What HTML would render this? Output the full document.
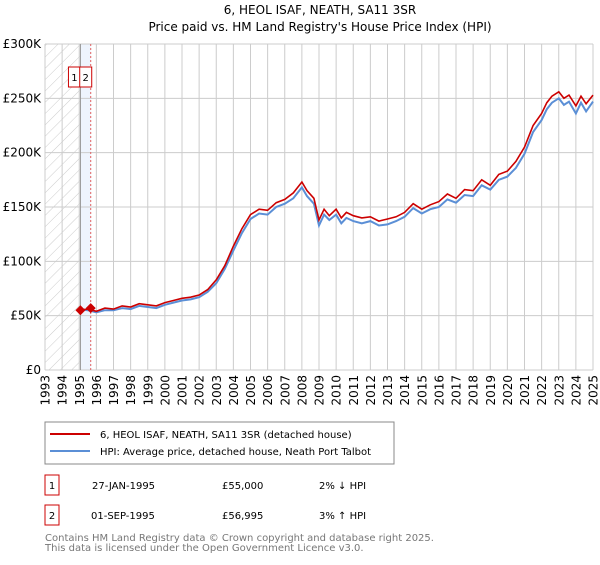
<!DOCTYPE html>
<html><head><meta charset="utf-8"><style>
body{margin:0;background:#fff;font-family:"Liberation Sans","DejaVu Sans",sans-serif;}
svg text{font-family:"DejaVu Sans","Liberation Sans",sans-serif;}
</style></head><body>
<svg id="c" width="600" height="560" xmlns="http://www.w3.org/2000/svg">
<defs><pattern id="h" patternUnits="userSpaceOnUse" width="8" height="8" patternTransform="rotate(45)"><line x1="0" y1="0" x2="0" y2="8" stroke="#ccc" stroke-width="1"/></pattern></defs>
<text x="320" y="14" font-size="12" text-anchor="middle">6, HEOL ISAF, NEATH, SA11 3SR</text>
<text x="320" y="31" font-size="12" text-anchor="middle">Price paid vs. HM Land Registry's House Price Index (HPI)</text>
<g id="grid"></g><g id="marks"></g>
<rect x="45" y="422" width="349" height="42" fill="#fff" stroke="#888"/>
<line x1="50" y1="434" x2="90" y2="434" stroke="#cc0000" stroke-width="2"/>
<text x="100" y="438" font-size="10">6, HEOL ISAF, NEATH, SA11 3SR (detached house)</text>
<line x1="50" y1="451" x2="90" y2="451" stroke="#5b8fd6" stroke-width="2"/>
<text x="100" y="455" font-size="10">HPI: Average price, detached house, Neath Port Talbot</text>
<rect x="45" y="475" width="14" height="20" fill="#fff" stroke="#cc0000"/>
<text x="52" y="489" font-size="10" text-anchor="middle">1</text>
<text x="92" y="489" font-size="10">27-JAN-1995</text>
<text x="222" y="489" font-size="10">£55,000</text>
<text x="319" y="489" font-size="10">2% ↓ HPI</text>
<rect x="45" y="505" width="14" height="20" fill="#fff" stroke="#cc0000"/>
<text x="52" y="519" font-size="10" text-anchor="middle">2</text>
<text x="91" y="519" font-size="10">01-SEP-1995</text>
<text x="222" y="519" font-size="10">£56,995</text>
<text x="319" y="519" font-size="10">3% ↑ HPI</text>
<text x="45" y="541" font-size="10" fill="#777">Contains HM Land Registry data © Crown copyright and database right 2025.</text>
<text x="45" y="551" font-size="10" fill="#777">This data is licensed under the Open Government Licence v3.0.</text>
</svg>
<script>
const years=[1995,1995.5,1996,1996.5,1997,1997.5,1998,1998.5,1999,1999.5,2000,2000.5,2001,2001.5,2002,2002.5,2003,2003.5,2004,2004.5,2005,2005.5,2006,2006.5,2007,2007.5,2008,2008.3,2008.7,2009,2009.3,2009.6,2010,2010.3,2010.6,2011,2011.5,2012,2012.5,2013,2013.5,2014,2014.5,2015,2015.5,2016,2016.5,2017,2017.5,2018,2018.5,2019,2019.5,2020,2020.5,2021,2021.5,2022,2022.3,2022.6,2023,2023.3,2023.6,2024,2024.3,2024.6,2025];
const priceVals=[55,56,54,57,56,59,58,61,60,59,62,64,66,67,69,74,83,96,114,130,143,148,147,154,157,163,173,165,158,138,148,142,148,140,145,142,140,141,137,139,141,145,153,148,152,155,162,158,166,165,175,170,180,183,192,205,225,236,246,252,256,250,253,243,252,245,253];
const hpiVals=[56,55,53,55,55,57,56,59,58,57,60,62,64,65,67,72,80,93,110,126,139,144,143,150,153,158,168,160,153,133,143,138,143,135,140,137,135,137,133,134,137,141,149,144,148,150,157,154,161,160,170,166,175,178,186,199,219,230,240,246,250,244,247,236,246,238,247];
const yTicks=[0,50,100,150,200,250,300];
const xTicks=[];for(let y=1993;y<=2025;y++)xTicks.push(y);
const sales=[[1995.07,55],[1995.67,56.995]];
const X=y=>45+(y-1993)*(548/32), Y=v=>370-v*326/300;
const NS='http://www.w3.org/2000/svg';
function mk(p,t,a){const e=document.createElementNS(NS,t);for(const k in a)e.setAttribute(k,a[k]);p.appendChild(e);return e;}
const g=document.getElementById('grid'),m=document.getElementById('marks');
let r=mk(g,'rect',{x:45,y:44,width:X(sales[0][0])-45,height:326,fill:'url(#h)'});


r=mk(g,'rect',{x:X(sales[0][0]),y:44,width:X(sales[1][0])-X(sales[0][0]),height:326,fill:'#eef4fd'});


xTicks.forEach(t=>{const l=mk(g,'line',{x1:X(t),y1:44,x2:X(t),y2:370,stroke:'#ccc'});


const tx=mk(g,'text',{x:0,y:0,'font-size':12,'text-anchor':'end',transform:`translate(${X(t)+4.5},375) rotate(-90)`});tx.textContent=t;

});
yTicks.forEach(t=>{const l=mk(g,'line',{x1:45,y1:Y(t),x2:593,y2:Y(t),stroke:'#ccc'});


const tx=mk(g,'text',{x:41,y:Y(t)+4,'font-size':12,'text-anchor':'end'});tx.textContent=t?'£'+t+'K':'£0';

});
let l=mk(g,'line',{x1:X(sales[0][0]),y1:44,x2:X(sales[0][0]),y2:370,stroke:'#999'});


l=mk(g,'line',{x1:X(sales[1][0]),y1:44,x2:X(sales[1][0]),y2:370,stroke:'#e06060','stroke-dasharray':'2,2'});


const pts=a=>a.map((v,i)=>X(years[i]).toFixed(1)+','+Y(v).toFixed(1)).join(' ');
let p=mk(m,'polyline',{points:pts(hpiVals),fill:'none',stroke:'#5b8fd6','stroke-width':2});


p=mk(m,'polyline',{points:pts(priceVals),fill:'none',stroke:'#cc0000','stroke-width':1.6});


sales.forEach((s,i)=>{const x=X(s[0]),y=Y(s[1]);
const d=mk(m,'polygon',{points:`${x-5},${y} ${x},${y-5} ${x+5},${y} ${x},${y+5}`,fill:'#cc0000'});


const b=mk(m,'rect',{x:i?x-11:x-12,y:67,width:12,height:20,fill:'#fff',stroke:'#cc0000'});


const t=mk(m,'text',{x:i?x-5:x-6,y:81,'font-size':10,'text-anchor':'middle'});t.textContent=i+1;

});
</script>
</body></html>
